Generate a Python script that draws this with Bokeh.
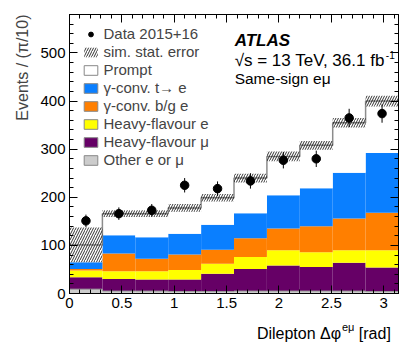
import numpy as np
from bokeh.plotting import figure
from bokeh.layouts import column
from bokeh.models import (Range1d, FixedTicker, LinearAxis, Legend, LegendItem,
                          Label, Title, CustomJSTickFormatter)
from bokeh.embed import file_html
from bokeh.resources import INLINE

# ---------------- data ----------------
bin_edges = [i * np.pi / 10 for i in range(11)]
other   = [9, 5, 5, 4, 4, 5, 5, 5, 5, 4]
hf_mu   = [25, 25, 24, 25, 37, 46, 53, 50, 59, 50]
hf_e    = [14, 16, 17, 20, 21, 25, 32, 31, 26, 36]
conv_bg = [3, 37, 26, 32, 29, 39, 45, 54, 66, 78]
conv_t  = [14, 38, 45, 43, 52, 52, 69, 79, 95, 124]
prompt  = [36, 45, 49, 54, 56, 73, 81, 89, 104, 108]
stat_err = [36, 7, 7, 8, 8, 9, 10, 9, 10, 11]
data     = [151, 166, 173, 225, 218, 234, 277, 280, 365, 374]
data_err = [13, 13, 13, 15, 15, 16, 17, 17, 19, 19]

x_ticks = [0, 0.5, 1, 1.5, 2, 2.5, 3]
x_tick_labels = ["0", "0.5", "1", "1.5", "2", "2.5", "3"]
y_ticks = [0, 100, 200, 300, 400, 500]

names  = ["Other e or \u03bc", "Heavy-flavour \u03bc", "Heavy-flavour e",
          "\u03b3-conv. b/g e", "\u03b3-conv. t\u2192 e", "Prompt"]
series = [other, hf_mu, hf_e, conv_bg, conv_t, prompt]
colors = ["#cccccc", "#660066", "#ffff00", "#ff7f00", "#0a7fff", "#ffffff"]

FONT = "Liberation Sans"

# ---------------- figure ----------------
p = figure(width=407, height=315, x_range=Range1d(0, np.pi), y_range=Range1d(0, 580),
           output_backend="svg", toolbar_location=None,
           min_border_left=69, min_border_right=9, min_border_top=14, min_border_bottom=22)
p.grid.visible = False
p.outline_line_color = "black"
p.background_fill_color = "white"

left = np.array(bin_edges[:-1])
right = np.array(bin_edges[1:])
bottom = np.zeros(10)
for name, vals, col in zip(names, series, colors):
    top = bottom + np.array(vals)
    p.quad(left=left, right=right, bottom=bottom, top=top, fill_color=col, line_color=None)
    bottom = top
    if name == names[0]:
        other_top = top.copy()
total = bottom

# outline of the "Other" band
p.step(x=list(bin_edges), y=list(other_top) + [other_top[-1]], mode="after",
       line_color="#999999", line_width=1)

# total outline (step)
xs = list(bin_edges)
ys = list(total) + [total[-1]]
p.step(x=xs, y=ys, mode="after", line_color="#8c8c8c", line_width=1.5)

# stat error band
err = np.array(stat_err)
band = p.quad(left=left, right=right, bottom=total - err, top=total + err,
              fill_color=None, line_color=None, hatch_pattern="/",
              hatch_color="black", hatch_scale=5, hatch_weight=0.8)

# data
centers = (left + right) / 2
d = np.array(data)
de = np.array(data_err)
p.segment(x0=centers, y0=d - de, x1=centers, y1=d + de, line_color="black", line_width=1)
pts = p.scatter(x=centers, y=d, size=8.5, marker="circle", fill_color="black", line_color="black")

# legend proxies (box glyphs with outline)
leg_boxes = {}
for name, col in zip(names, colors):
    leg_boxes[name] = p.quad(left=[0], right=[0], bottom=[0], top=[0], fill_color=col,
                             line_color="#888888", line_width=1)

items = [LegendItem(label="Data 2015+16", renderers=[pts]),
         LegendItem(label="sim. stat. error", renderers=[band])]
for name in reversed(names):
    items.append(LegendItem(label=name, renderers=[leg_boxes[name]]))
legend = Legend(items=items, location=(12.5, 125), margin=0, padding=0,
                background_fill_alpha=0, border_line_color=None,
                label_text_font=FONT, label_text_font_size="15px",
                glyph_width=17, glyph_height=12, label_standoff=5,
                label_height=14, spacing=1)
p.add_layout(legend)

# ---------------- axes ----------------
def style_axis(ax):
    ax.major_tick_in = 8
    ax.major_tick_out = 0
    ax.minor_tick_in = 4
    ax.minor_tick_out = 0
    ax.axis_line_color = "black"
    ax.major_tick_line_color = "black"
    ax.minor_tick_line_color = "black"
    ax.major_label_text_font = FONT
    ax.major_label_text_font_size = "15px"
    ax.major_label_text_color = "black"

x_minor = [round(i * 0.1, 1) for i in range(32)]
y_minor = list(range(0, 581, 20))

xa = p.xaxis[0]
style_axis(xa)
xa.ticker = FixedTicker(ticks=x_ticks, minor_ticks=x_minor)
xa.major_label_overrides = {t: l for t, l in zip(x_ticks, x_tick_labels)}
xa.major_label_standoff = 4

ya = p.yaxis[0]
style_axis(ya)
ya.ticker = FixedTicker(ticks=y_ticks, minor_ticks=y_minor)
ya.major_label_standoff = 4

blank = CustomJSTickFormatter(code="return ''")
top_ax = LinearAxis(formatter=blank)
style_axis(top_ax)
top_ax.ticker = FixedTicker(ticks=x_ticks, minor_ticks=x_minor)
top_ax.major_label_text_font_size = "1px"
top_ax.major_label_standoff = 0
p.add_layout(top_ax, "above")
right_ax = LinearAxis(formatter=blank)
style_axis(right_ax)
right_ax.ticker = FixedTicker(ticks=y_ticks, minor_ticks=y_minor)
right_ax.major_label_text_font_size = "1px"
right_ax.major_label_standoff = 0
p.add_layout(right_ax, "right")

# y label
p.add_layout(Title(text="Events / (\u03c0/10)", align="right", text_font=FONT,
                   text_font_size="16px", text_font_style="normal", standoff=14), "left")

# ATLAS labels
p.add_layout(Label(x=1.577, y=526, text="ATLAS", text_baseline="middle", text_font=FONT,
                   text_font_size="17px", text_font_style="bold italic", text_color="black"))
p.add_layout(Label(x=1.577, y=485, text="\u221as = 13 TeV, 36.1 fb", text_baseline="middle",
                   text_font=FONT, text_font_size="17px", text_color="black"))
p.add_layout(Label(x=3.021, y=495, text="-1", text_baseline="middle",
                   text_font=FONT, text_font_size="10px", text_color="black"))
p.add_layout(Label(x=1.577, y=447, text="Same-sign e\u03bc", text_baseline="middle",
                   text_font=FONT, text_font_size="15.5px", text_color="black"))

# ---------------- x-axis title strip ----------------
q = figure(width=407, height=30, x_range=Range1d(0, 407), y_range=Range1d(0, 30),
           output_backend="svg", toolbar_location=None,
           x_axis_location=None, y_axis_location=None,
           min_border_left=0, min_border_right=0, min_border_top=0, min_border_bottom=0)
q.grid.visible = False
q.outline_line_color = None
q.add_layout(Label(x=397.5, y=12, text="[rad]", text_align="right", text_baseline="middle",
                   text_font=FONT, text_font_size="16px", text_color="black"))
q.add_layout(Label(x=337, y=19, text="e\u03bc", text_baseline="middle",
                   text_font=FONT, text_font_size="11px", text_color="black"))
q.add_layout(Label(x=336, y=12, text="Dilepton \u0394\u03c6", text_align="right",
                   text_baseline="middle", text_font=FONT, text_font_size="16px",
                   text_color="black"))

layout = column(p, q, spacing=0)
open("out.html", "w").write(file_html(layout, INLINE))
